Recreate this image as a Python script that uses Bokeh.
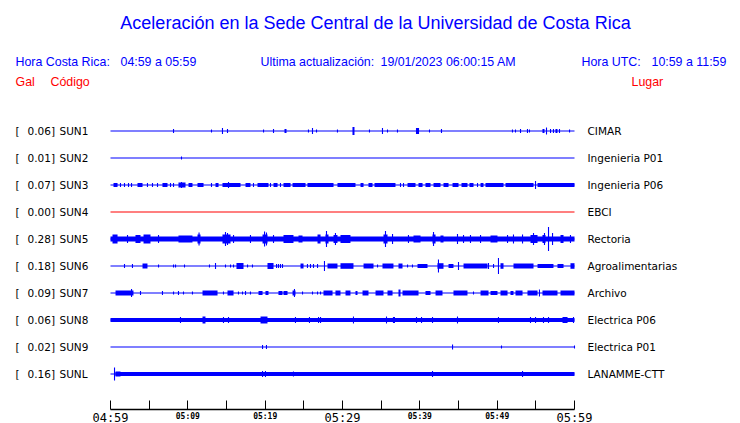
from bokeh.plotting import figure
from bokeh.models import ColumnDataSource, Range1d, LinearAxis, FixedTicker
from bokeh.core.properties import value
from bokeh.embed import file_html
from bokeh.resources import INLINE

# ---------------- data ----------------
codes = ["SUN1", "SUN2", "SUN3", "SUN4", "SUN5", "SUN6", "SUN7", "SUN8", "SUN9", "SUNL"]
places = ["CIMAR", "Ingenieria P01", "Ingenieria P06", "EBCI", "Rectoria",
          "Agroalimentarias", "Archivo", "Electrica P06", "Electrica P01", "LANAMME-CTT"]
peaks = [0.06, 0.01, 0.07, 0.00, 0.28, 0.18, 0.09, 0.06, 0.02, 0.16]   # Gal
band = [0, 0, 0, 0, 0.06, 0, 0, 0.045, 0, 0]                           # continuous half-amplitude, Gal
window_minutes = [0, 60]                                                # 04:59 -> 05:59

# spikes: (minute, half-amplitude Gal); blocks: (start minute, end minute, half-amplitude Gal)
sun1_spikes = [(8.15, 0.047), (13.06, 0.035), (14.48, 0.07), (15.13, 0.047), (19.79, 0.035), (21.08, 0.047),
               (25.60, 0.035), (26.12, 0.07), (26.64, 0.035), (29.35, 0.035), (33.49, 0.035), (35.17, 0.07),
               (35.82, 0.035), (37.11, 0.035), (41.25, 0.035), (42.80, 0.047), (51.98, 0.035), (52.37, 0.035),
               (53.02, 0.047), (53.92, 0.047), (54.18, 0.035), (56.38, 0.081), (56.90, 0.047), (57.28, 0.047),
               (58.06, 0.047), (59.36, 0.035)]
sun1_blocks = [(22.50, 22.76, 0.047), (31.29, 31.55, 0.093), (39.50, 39.90, 0.070), (55.86, 56.12, 0.047),
               (57.54, 57.80, 0.047)]

sun2_spikes = [(9.18, 0.035)]
sun2_blocks = []

sun3_spikes = [(1.29, 0.047), (1.81, 0.047), (2.33, 0.047), (2.72, 0.047), (4.78, 0.047), (5.43, 0.047),
               (6.08, 0.047), (7.76, 0.047), (8.15, 0.047), (9.18, 0.070), (13.06, 0.047), (15.26, 0.070),
               (18.49, 0.047), (20.69, 0.047), (21.98, 0.047), (37.50, 0.047), (37.89, 0.047), (47.46, 0.047),
               (54.96, 0.093)]
sun3_blocks = [(0.39, 0.91, 0.047), (3.49, 4.14, 0.047), (6.72, 7.37, 0.047), (8.79, 9.70, 0.058),
               (10.09, 10.60, 0.047), (11.25, 12.03, 0.047), (13.58, 13.97, 0.047), (14.48, 16.81, 0.047),
               (17.46, 18.10, 0.047), (19.01, 20.43, 0.047), (21.08, 21.60, 0.047), (22.37, 23.28, 0.047),
               (23.54, 25.22, 0.047), (25.47, 28.84, 0.047), (29.35, 31.68, 0.047), (32.33, 32.72, 0.047),
               (33.36, 33.88, 0.047), (34.14, 36.85, 0.047), (38.41, 39.44, 0.047), (39.83, 40.35, 0.047),
               (40.73, 41.38, 0.047), (41.77, 42.67, 0.047), (43.06, 43.71, 0.047), (44.23, 45.00, 0.047),
               (45.39, 46.16, 0.047), (46.42, 46.94, 0.047), (47.85, 48.23, 0.047), (48.49, 50.82, 0.047),
               (51.08, 54.70, 0.047), (55.22, 60.00, 0.047)]

sun4_spikes = []
sun4_blocks = []

sun5_spikes = [(2.20, 0.093), (6.21, 0.093), (11.45, 0.151), (14.87, 0.163), (15.13, 0.140), (15.91, 0.093),
               (18.10, 0.093), (19.92, 0.174), (20.17, 0.151), (21.08, 0.093), (27.93, 0.186), (29.09, 0.140),
               (35.56, 0.186), (36.47, 0.116), (38.53, 0.093), (41.77, 0.163), (44.87, 0.116), (45.65, 0.093),
               (46.55, 0.093), (47.85, 0.093), (51.34, 0.093), (52.11, 0.105), (53.28, 0.105), (54.70, 0.140),
               (56.12, 0.140), (56.64, 0.279), (57.16, 0.140), (59.48, 0.093)]
sun5_blocks = [(0.26, 0.91, 0.105), (3.23, 3.88, 0.093), (4.27, 5.17, 0.105), (8.79, 10.60, 0.081),
               (11.25, 11.64, 0.105), (14.48, 15.52, 0.105), (19.66, 20.30, 0.105), (22.37, 23.66, 0.093),
               (24.31, 24.83, 0.081), (26.77, 27.16, 0.105), (27.80, 28.19, 0.105), (28.84, 29.35, 0.093),
               (29.74, 31.03, 0.093), (35.30, 35.82, 0.105), (39.18, 40.09, 0.081), (41.64, 42.03, 0.105),
               (42.67, 43.06, 0.081), (49.14, 50.04, 0.081), (54.31, 55.22, 0.093), (55.86, 56.25, 0.093),
               (58.19, 58.58, 0.093)]

sun6_spikes = [(1.81, 0.047), (2.84, 0.047), (6.21, 0.035), (8.15, 0.035), (8.41, 0.035), (9.57, 0.035),
               (12.80, 0.035), (13.58, 0.070), (14.87, 0.035), (15.52, 0.035), (15.91, 0.035), (17.72, 0.035),
               (18.36, 0.035), (21.47, 0.047), (21.72, 0.047), (21.98, 0.047), (22.24, 0.047), (25.47, 0.047),
               (25.86, 0.047), (26.25, 0.047), (26.77, 0.047), (27.67, 0.116), (34.53, 0.035), (38.41, 0.035),
               (39.05, 0.035), (42.41, 0.151), (45.00, 0.093), (48.88, 0.070), (49.53, 0.047), (50.17, 0.186)]
sun6_blocks = [(4.14, 4.78, 0.058), (16.29, 17.20, 0.070), (20.30, 21.08, 0.070), (24.57, 24.96, 0.058),
               (28.06, 29.35, 0.058), (29.74, 31.42, 0.065), (32.72, 34.01, 0.058), (35.17, 36.59, 0.058),
               (37.24, 37.76, 0.058), (39.70, 40.99, 0.047), (42.28, 43.06, 0.065), (43.71, 44.35, 0.047),
               (45.65, 48.75, 0.058), (50.43, 50.82, 0.065), (52.11, 54.70, 0.058), (55.22, 57.28, 0.047),
               (57.80, 58.58, 0.047), (59.48, 60.00, 0.065)]

sun7_spikes = [(2.72, 0.093), (3.88, 0.047), (6.72, 0.047), (8.15, 0.035), (8.79, 0.047), (9.44, 0.035),
               (10.60, 0.035), (14.61, 0.035), (16.55, 0.035), (17.07, 0.035), (17.46, 0.047), (18.10, 0.035),
               (23.79, 0.093), (24.83, 0.035), (26.12, 0.035), (26.77, 0.035), (27.16, 0.035), (46.94, 0.035),
               (55.47, 0.081)]
sun7_blocks = [(0.65, 2.97, 0.058), (11.90, 13.84, 0.058), (15.13, 15.91, 0.058), (19.14, 19.66, 0.047),
               (20.04, 20.43, 0.047), (21.72, 22.24, 0.047), (22.37, 22.89, 0.047), (23.54, 23.92, 0.058),
               (27.54, 28.71, 0.058), (29.09, 29.74, 0.058), (30.39, 31.03, 0.058), (31.68, 31.94, 0.047),
               (32.59, 33.36, 0.058), (34.27, 35.30, 0.058), (35.82, 36.47, 0.058), (37.24, 37.50, 0.081),
               (37.76, 39.83, 0.058), (40.73, 41.38, 0.047), (42.03, 42.93, 0.058), (44.35, 46.16, 0.058),
               (47.85, 48.88, 0.058), (49.14, 50.04, 0.047), (50.43, 51.34, 0.058), (51.72, 52.11, 0.047),
               (52.37, 53.28, 0.058), (53.92, 55.22, 0.058), (55.86, 57.80, 0.058), (58.19, 60.00, 0.058)]

sun8_spikes = [(9.05, 0.070), (14.61, 0.070), (15.26, 0.070), (23.92, 0.070), (25.73, 0.070), (26.90, 0.070),
               (27.16, 0.070), (31.42, 0.081), (35.69, 0.081), (36.59, 0.070), (36.72, 0.070), (39.57, 0.070),
               (40.22, 0.070), (41.64, 0.070), (44.87, 0.081), (50.17, 0.070), (54.31, 0.070), (54.96, 0.070),
               (55.99, 0.070), (56.64, 0.070), (59.87, 0.070)]
sun8_blocks = [(11.90, 12.28, 0.081), (19.40, 20.30, 0.081), (58.45, 59.10, 0.070)]

sun9_spikes = [(19.66, 0.047), (20.17, 0.047), (44.23, 0.058), (50.56, 0.035), (60.00, 0.035)]
sun9_blocks = []

sunl_spikes = [(0.52, 0.151), (19.66, 0.070), (20.04, 0.070), (23.66, 0.058), (41.64, 0.070), (53.28, 0.070)]
sunl_blocks = [(0.65, 60.00, 0.045), (0.65, 1.29, 0.058)]

all_spikes = [sun1_spikes, sun2_spikes, sun3_spikes, sun4_spikes, sun5_spikes,
              sun6_spikes, sun7_spikes, sun8_spikes, sun9_spikes, sunl_spikes]
all_blocks = [sun1_blocks, sun2_blocks, sun3_blocks, sun4_blocks, sun5_blocks,
              sun6_blocks, sun7_blocks, sun8_blocks, sun9_blocks, sunl_blocks]

tick_minutes = [0, 5, 10, 15, 20, 25, 30, 35, 40, 45, 50, 55, 60]
small_tick_labels = {10: "05:09", 20: "05:19", 40: "05:39", 50: "05:49"}
big_tick_minutes = [0, 30, 60]
big_tick_labels = ["04:59", "05:29", "05:59"]

title_text = "Aceleración en la Sede Central de la Universidad de Costa Rica"
header_texts = ["Hora Costa Rica:", "04:59 a 05:59", "Ultima actualización:",
                "19/01/2023 06:00:15 AM", "Hora UTC:", "10:59 a 11:59"]
column_texts = ["Gal", "Código", "Lugar"]

# ---------------- style / layout ----------------
BLUE = "#0000ff"
RED = "#ff0000"
trace_colors = [BLUE, BLUE, BLUE, RED, BLUE, BLUE, BLUE, BLUE, BLUE, BLUE]
PX_PER_MIN = 464 / 60.0
ROW_PX = 27.0
GAL_PX = 43.0
K = GAL_PX / ROW_PX
W, H = 740, 423


def X(px):  # window pixel -> minutes (layout helper for text placement)
    return (px - 110) / PX_PER_MIN


def Y(py):  # window pixel -> row units
    return (130.5 - py) / ROW_PX


p = figure(frame_width=W, frame_height=H,
           x_range=Range1d(X(0), X(W)), y_range=Range1d(Y(H), Y(0)),
           x_axis_location=None, y_axis_location=None,
           toolbar_location=None, output_backend="svg",
           min_border=0, outline_line_color=None,
           background_fill_color="white", border_fill_color="white")
p.grid.visible = False

# traces
base = dict(x0=[], x1=[], y=[], c=[])
bands = dict(l=[], r=[], b=[], t=[], c=[])
spk = dict(x=[], y0=[], y1=[], c=[])
blk = dict(l=[], r=[], b=[], t=[], c=[])
for r in range(len(codes)):
    y = -r
    col = trace_colors[r]
    base["x0"].append(window_minutes[0]); base["x1"].append(window_minutes[1])
    base["y"].append(y); base["c"].append(col)
    if band[r] > 0:
        bands["l"].append(window_minutes[0]); bands["r"].append(window_minutes[1])
        bands["b"].append(y - band[r] * K); bands["t"].append(y + band[r] * K); bands["c"].append(col)
    for (t, a) in all_spikes[r]:
        spk["x"].append(t); spk["y0"].append(y - a * K); spk["y1"].append(y + a * K); spk["c"].append(col)
    for (t0, t1, a) in all_blocks[r]:
        blk["l"].append(t0); blk["r"].append(t1)
        blk["b"].append(y - a * K); blk["t"].append(y + a * K); blk["c"].append(col)

p.segment(x0="x0", x1="x1", y0="y", y1="y", line_color="c", line_width=1.1, source=ColumnDataSource(base))
p.quad(left="l", right="r", bottom="b", top="t", fill_color="c", line_color=None,
       source=ColumnDataSource(bands))
p.quad(left="l", right="r", bottom="b", top="t", fill_color="c", line_color=None,
       source=ColumnDataSource(blk))
p.segment(x0="x", x1="x", y0="y0", y1="y1", line_color="c", line_width=1.1, source=ColumnDataSource(spk))

# station labels
rows = [-r for r in range(len(codes))]
lab_font = value("DejaVu Sans")
p.text(x=[X(15)] * len(codes), y=rows, text=["["] * len(codes), text_font=lab_font,
       text_font_size="10.5px", text_color="black", text_baseline="middle", text_align="left")
p.text(x=[X(54.5)] * len(codes), y=rows, text=["%.2f]" % v for v in peaks], text_font=lab_font,
       text_font_size="10.5px", text_color="black", text_baseline="middle", text_align="right")
p.text(x=[X(59)] * len(codes), y=rows, text=codes, text_font=lab_font,
       text_font_size="10.5px", text_color="black", text_baseline="middle", text_align="left")
p.text(x=[X(587)] * len(codes), y=rows, text=places, text_font=lab_font,
       text_font_size="10.5px", text_color="black", text_baseline="middle", text_align="left")

# title and headers
hfont = value("Liberation Sans")
p.text(x=[X(375)], y=[Y(22)], text=[title_text], text_font=hfont, text_font_size="18px",
       text_color=BLUE, text_baseline="middle", text_align="center")
p.text(x=[X(15), X(120), X(260), X(380), X(581), X(651)], y=[Y(61)] * 6, text=header_texts,
       text_font=hfont, text_font_size="12.4px", text_color=BLUE, text_baseline="middle", text_align="left")
p.text(x=[X(15), X(50), X(631)], y=[Y(81)] * 3, text=column_texts,
       text_font=hfont, text_font_size="12.4px", text_color=RED, text_baseline="middle", text_align="left")

# time axis, fixed inside the frame
overrides = {m: small_tick_labels.get(m, "") for m in tick_minutes}
xaxis = LinearAxis(ticker=FixedTicker(ticks=tick_minutes, minor_ticks=[]), bounds=(0, 60),
                   fixed_location=Y(409),
                   major_tick_in=9, major_tick_out=0, minor_tick_in=0, minor_tick_out=0,
                   axis_line_width=1.3, axis_line_color="black", major_tick_line_color="black",
                   major_label_overrides=overrides, major_label_standoff=2,
                   major_label_text_font="DejaVu Sans Mono", major_label_text_font_size="8px",
                   major_label_text_font_style="bold", major_label_text_color="black")
p.add_layout(xaxis, "below")

p.text(x=big_tick_minutes, y=[Y(410)] * len(big_tick_minutes), text=big_tick_labels,
       text_font=value("DejaVu Sans Mono"), text_font_size="12px", text_color="black",
       text_baseline="top", text_align="center")

open("out.html", "w").write(file_html(p, INLINE))
